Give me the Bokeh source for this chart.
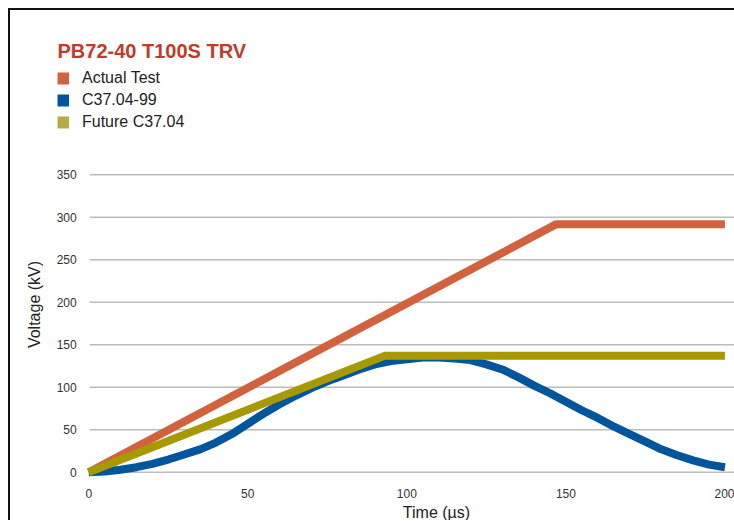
from bokeh.plotting import figure
from bokeh.models import Label, Legend, LegendItem, FixedTicker, Range1d
from bokeh.embed import file_html
from bokeh.resources import INLINE
import math

# ---- data ----
title_text = "PB72-40 T100S TRV"
series_names = ["Actual Test", "C37.04-99", "Future C37.04"]

actual_time = [0, 147, 200]
actual_volt = [0, 292, 292]

c3704_99_time = [0, 5, 10, 15, 20, 25, 30, 35, 40, 45, 50, 55, 60, 65, 70, 75, 80, 85, 90, 95, 100,
                 105, 110, 115, 120, 125, 130, 135, 140, 145, 150, 155, 160, 165, 170, 175, 180,
                 185, 190, 195, 200]
c3704_99_volt = [0, 1, 3, 6, 10, 15, 21, 27, 35, 45, 57, 69, 80, 90, 99, 107, 114, 121, 127, 131, 133,
                 135, 135, 134, 132, 127, 121, 112, 102, 93, 83, 73, 64, 54, 45, 36, 27,
                 20, 14, 9, 6]

future_time = [0, 93, 200]
future_volt = [0, 137, 137]

x_ticks = [0, 50, 100, 150, 200]
y_ticks = [0, 50, 100, 150, 200, 250, 300, 350]

x_label = "Time (µs)"
y_label = "Voltage (kV)"

# ---- styles / layout ----
col_actual = "#d1623d"
col_c37 = "#00559c"
col_future = "#a89900"
col_future_key = "#bbaa44"
col_title = "#c13b2a"
FONT = "Liberation Sans"

X_START, X_END = -24.59, 203.63
Y_START, Y_END = -59.06, 543.35
GRID_X0 = 0.32

p = figure(
    width=726, height=512,
    x_range=Range1d(X_START, X_END), y_range=Range1d(Y_START, Y_END),
    output_backend="svg", toolbar_location=None,
    min_border_left=0, min_border_right=0, min_border_top=0, min_border_bottom=0,
    styles={"margin-left": "8px", "margin-top": "8px",
            "border-top": "2px solid #111111", "border-left": "2px solid #111111"},
)
p.outline_line_color = None
p.background_fill_color = "white"
p.border_fill_color = "white"
p.grid.visible = False

# horizontal grid lines at the y ticks, starting just right of the tick labels
p.segment(x0=[GRID_X0] * len(y_ticks), y0=y_ticks, x1=[X_END] * len(y_ticks), y1=y_ticks,
          line_color="#bcbcbc", line_width=1.5, level="underlay")

for ax in (p.xaxis[0], p.yaxis[0]):
    ax.axis_line_color = None
    ax.major_tick_line_color = None
    ax.minor_tick_line_color = None
    ax.major_label_text_font = FONT
    ax.major_label_text_font_size = "12px"
    ax.major_label_text_color = "#333333"
p.xaxis.ticker = FixedTicker(ticks=x_ticks)
p.yaxis.ticker = FixedTicker(ticks=y_ticks)
p.xaxis.fixed_location = -7.09
p.yaxis.fixed_location = -1.26
p.xaxis.major_label_standoff = 5
p.yaxis.major_label_standoff = 2

r_actual = p.line(actual_time, actual_volt, line_color=col_actual, line_width=8)
r_c37 = p.line(c3704_99_time, c3704_99_volt, line_color=col_c37, line_width=8, line_join="round")
r_future = p.line(future_time, future_volt, line_color=col_future, line_width=8)

# hidden copies of the series, used only to draw the square legend keys
k1 = p.line(actual_time, actual_volt, line_color=col_actual, line_width=12, visible=False)
k2 = p.line(c3704_99_time, c3704_99_volt, line_color=col_c37, line_width=12, visible=False)
k3 = p.line(future_time, future_volt, line_color=col_future_key, line_width=12, visible=False)
legend = Legend(
    items=[LegendItem(label=series_names[0], renderers=[k1]),
           LegendItem(label=series_names[1], renderers=[k2]),
           LegendItem(label=series_names[2], renderers=[k3])],
    location=(47, 390),
    glyph_width=12, glyph_height=20, label_height=20, spacing=2,
    label_standoff=13, padding=0, margin=0,
    border_line_color=None, background_fill_alpha=0,
    inactive_fill_alpha=0,
    label_text_font=FONT, label_text_font_size="16px", label_text_color="#222222",
)
p.add_layout(legend, "center")

p.add_layout(Label(x=47, y=472, x_units="screen", y_units="screen", text=title_text,
                   text_font=FONT, text_font_size="20px", text_font_style="bold",
                   text_color=col_title, text_align="left", text_baseline="middle"))
p.add_layout(Label(x=24, y=218, x_units="screen", y_units="screen", text=y_label,
                   angle=math.pi / 2, text_font=FONT, text_font_size="16px",
                   text_color="#222222", text_align="center", text_baseline="middle"))
p.add_layout(Label(x=426, y=10, x_units="screen", y_units="screen", text=x_label,
                   text_font=FONT, text_font_size="16px",
                   text_color="#222222", text_align="center", text_baseline="middle"))

open("out.html", "w").write(file_html(p, INLINE))
